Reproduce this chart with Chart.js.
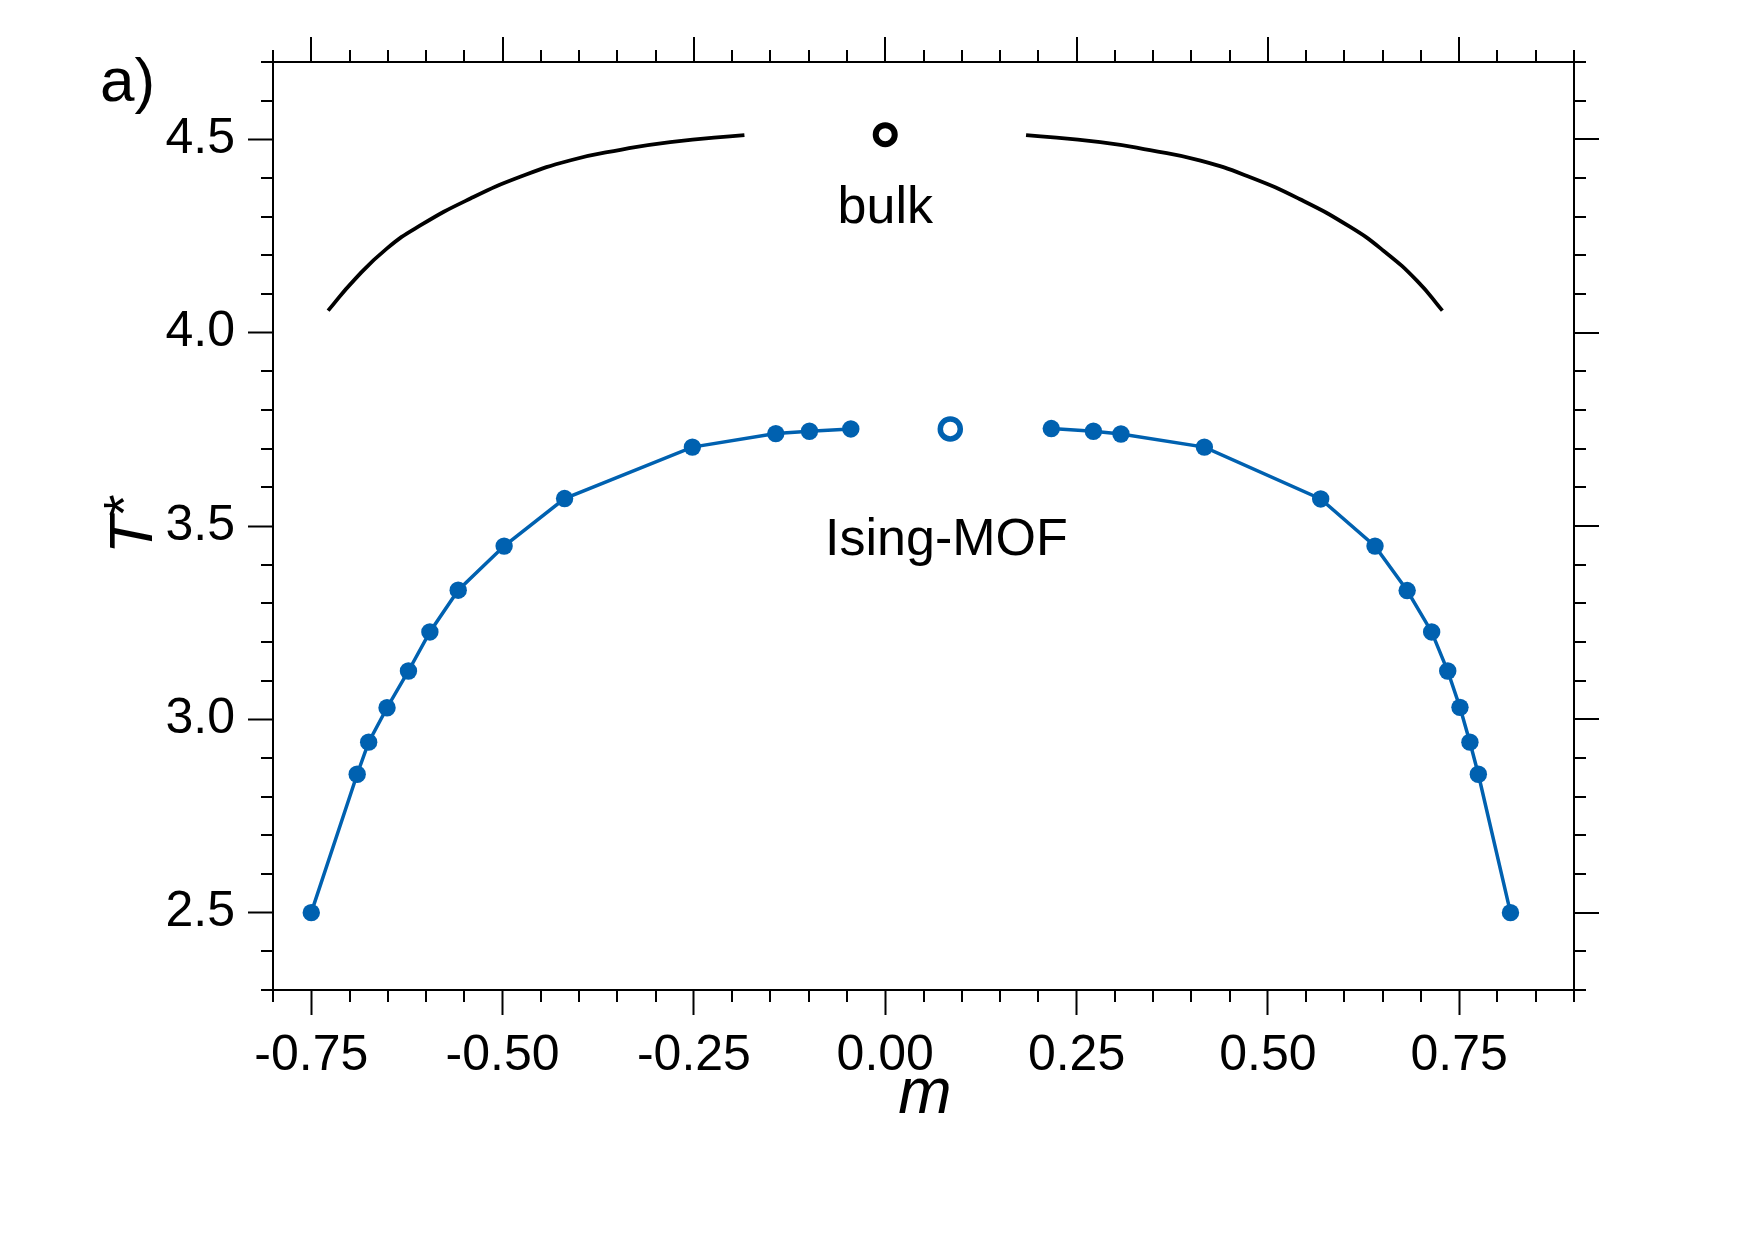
<!DOCTYPE html>
<html>
<head>
<meta charset="utf-8">
<title>Coexistence curves: bulk vs Ising-MOF</title>
<script src="https://cdn.jsdelivr.net/npm/chart.js@4/dist/chart.umd.min.js"></script>
<style>
  html, body { margin: 0; padding: 0; background: #fff; }
  #wrap { width: 1752px; height: 1240px; }
</style>
</head>
<body>
<div id="wrap"><canvas id="phaseChart" width="1752" height="1240"></canvas></div>
<script>
// bulk coexistence curve (black), left and right branches
const bulkLeftM = [-0.728, -0.694, -0.651, -0.607, -0.542, -0.477, -0.411, -0.346, -0.281, -0.184];
const bulkLeftT = [4.057, 4.136, 4.218, 4.278, 4.347, 4.403, 4.446, 4.473, 4.493, 4.511];
const bulkRightM = [0.184, 0.281, 0.346, 0.412, 0.477, 0.542, 0.607, 0.651, 0.695, 0.728];
const bulkRightT = [4.511, 4.493, 4.472, 4.445, 4.402, 4.345, 4.274, 4.212, 4.134, 4.057];

// Ising-MOF simulation points (blue)
const mofLeftM = [-0.750, -0.690, -0.675, -0.651, -0.623, -0.595, -0.558, -0.498, -0.419, -0.252, -0.143, -0.099, -0.045];
const mofLeftT = [2.500, 2.858, 2.941, 3.030, 3.125, 3.226, 3.334, 3.448, 3.571, 3.704, 3.739, 3.745, 3.751];
const mofRightM = [0.217, 0.272, 0.308, 0.417, 0.569, 0.640, 0.682, 0.714, 0.735, 0.751, 0.764, 0.775, 0.817];
const mofRightT = [3.752, 3.745, 3.738, 3.704, 3.570, 3.448, 3.333, 3.226, 3.125, 3.031, 2.941, 2.858, 2.500];

// critical points (open circles)
const bulkCritM = [0.0];
const bulkCritT = [4.512];
const mofCritM = [0.085];
const mofCritT = [3.751];

// axes
const xTickValues = [-0.75, -0.50, -0.25, 0.00, 0.25, 0.50, 0.75];
const yTickValues = [2.5, 3.0, 3.5, 4.0, 4.5];
const X_MIN = -0.8, X_MAX = 0.9, X_MINOR = 0.05;
const Y_MIN = 2.3, Y_MAX = 4.7, Y_MINOR = 0.1;

const BLUE = '#0061b0';
const FONT = '"Liberation Sans", Arial, Helvetica, sans-serif';
const MAJOR_LEN = 25;
const MINOR_LEN = 12;

function toPoints(ms, ts) {
  return ms.map((m, i) => ({ x: m, y: ts[i] }));
}

const frameAndText = {
  id: 'frameAndText',
  afterDraw(chart) {
    const { ctx, chartArea: a, scales } = chart;
    const xs = scales.x, ys = scales.y;

    ctx.save();
    ctx.strokeStyle = '#000';
    ctx.lineWidth = 2;
    ctx.lineCap = 'butt';

    const line = (x1, y1, x2, y2) => {
      ctx.beginPath();
      ctx.moveTo(x1, y1);
      ctx.lineTo(x2, y2);
      ctx.stroke();
    };

    // top and right frame
    const top = Math.round(a.top), right = Math.round(a.right);
    const left = Math.round(a.left), bottom = Math.round(a.bottom);
    line(left - 1, top, right + 1, top);
    line(right, top, right, bottom + 1);

    // major ticks on top / right
    xTickValues.forEach(v => {
      const px = Math.round(xs.getPixelForValue(v));
      line(px, top, px, top - MAJOR_LEN);
    });
    yTickValues.forEach(v => {
      const py = Math.round(ys.getPixelForValue(v));
      line(right, py, right + MAJOR_LEN, py);
    });

    // minor ticks on all four sides
    const isMajor = (v, list) => list.some(t => Math.abs(t - v) < 1e-6);
    const nx = Math.round((X_MAX - X_MIN) / X_MINOR);
    for (let i = 0; i <= nx; i++) {
      const v = X_MIN + i * X_MINOR;
      if (isMajor(v, xTickValues)) continue;
      const px = Math.round(xs.getPixelForValue(v));
      line(px, bottom, px, bottom + MINOR_LEN);
      line(px, top, px, top - MINOR_LEN);
    }
    const ny = Math.round((Y_MAX - Y_MIN) / Y_MINOR);
    for (let i = 0; i <= ny; i++) {
      const v = Y_MIN + i * Y_MINOR;
      if (isMajor(v, yTickValues)) continue;
      const py = Math.round(ys.getPixelForValue(v));
      line(left, py, left - MINOR_LEN, py);
      line(right, py, right + MINOR_LEN, py);
    }

    // texts
    ctx.fillStyle = '#000';
    ctx.textBaseline = 'alphabetic';

    ctx.textAlign = 'left';
    ctx.font = `62px ${FONT}`;
    ctx.fillText('a)', 100, 101);

    ctx.textAlign = 'center';
    ctx.font = `52px ${FONT}`;
    ctx.fillText('bulk', xs.getPixelForValue(0.0), ys.getPixelForValue(4.283));
    ctx.fillText('Ising-MOF', xs.getPixelForValue(0.080), ys.getPixelForValue(3.424));

    // x axis title
    ctx.font = `italic 64px ${FONT}`;
    ctx.fillText('m', 925, 1113);

    // y axis title T*
    ctx.save();
    ctx.translate(152, 554);
    ctx.rotate(-Math.PI / 2);
    ctx.textAlign = 'left';
    ctx.font = `italic 62px ${FONT}`;
    ctx.fillText('T', 0, 0);
    const tw = ctx.measureText('T').width;
    ctx.font = `italic 58px ${FONT}`;
    ctx.fillText('*', tw - 3, -8);
    ctx.restore();

    ctx.restore();
  }
};

new Chart(document.getElementById('phaseChart'), {
  type: 'scatter',
  data: {
    datasets: [
      {
        label: 'bulk left',
        data: toPoints(bulkLeftM, bulkLeftT),
        showLine: true,
        borderColor: '#000',
        borderWidth: 3.8,
        pointRadius: 0,
        tension: 0.5
      },
      {
        label: 'bulk right',
        data: toPoints(bulkRightM, bulkRightT),
        showLine: true,
        borderColor: '#000',
        borderWidth: 3.8,
        pointRadius: 0,
        tension: 0.5
      },
      {
        label: 'bulk critical',
        data: toPoints(bulkCritM, bulkCritT),
        pointRadius: 9.5,
        pointBorderWidth: 6,
        pointBorderColor: '#000',
        pointBackgroundColor: 'rgba(255,255,255,0)'
      },
      {
        label: 'Ising-MOF left',
        data: toPoints(mofLeftM, mofLeftT),
        showLine: true,
        borderColor: BLUE,
        borderWidth: 3.5,
        pointRadius: 8.7,
        pointBorderWidth: 0,
        pointBackgroundColor: BLUE
      },
      {
        label: 'Ising-MOF right',
        data: toPoints(mofRightM, mofRightT),
        showLine: true,
        borderColor: BLUE,
        borderWidth: 3.5,
        pointRadius: 8.7,
        pointBorderWidth: 0,
        pointBackgroundColor: BLUE
      },
      {
        label: 'Ising-MOF critical',
        data: toPoints(mofCritM, mofCritT),
        pointRadius: 10,
        pointBorderWidth: 5.5,
        pointBorderColor: BLUE,
        pointBackgroundColor: 'rgba(255,255,255,0)'
      }
    ]
  },
  options: {
    responsive: false,
    animation: false,
    devicePixelRatio: 1,
    layout: { padding: { left: 0, top: 62, right: 178, bottom: 0 } },
    plugins: {
      legend: { display: false },
      tooltip: { enabled: false }
    },
    scales: {
      x: {
        type: 'linear',
        position: 'bottom',
        min: X_MIN,
        max: X_MAX,
        afterFit: s => { s.height = 250; },
        afterBuildTicks: s => { s.ticks = xTickValues.map(v => ({ value: v })); },
        grid: {
          drawOnChartArea: false,
          drawTicks: true,
          tickLength: MAJOR_LEN,
          tickWidth: 2,
          tickColor: '#000'
        },
        border: { display: true, color: '#000', width: 2 },
        ticks: {
          padding: 11,
          color: '#000',
          font: { family: FONT, size: 50 },
          maxRotation: 0,
          callback: v => Number(v).toFixed(2)
        }
      },
      y: {
        type: 'linear',
        position: 'left',
        min: Y_MIN,
        max: Y_MAX,
        afterFit: s => { s.width = 273; },
        afterBuildTicks: s => { s.ticks = yTickValues.map(v => ({ value: v })); },
        grid: {
          drawOnChartArea: false,
          drawTicks: true,
          tickLength: MAJOR_LEN,
          tickWidth: 2,
          tickColor: '#000'
        },
        border: { display: true, color: '#000', width: 2 },
        ticks: {
          padding: 13,
          color: '#000',
          font: { family: FONT, size: 50 },
          callback: v => Number(v).toFixed(1)
        }
      }
    }
  },
  plugins: [frameAndText]
});
</script>
</body>
</html>
